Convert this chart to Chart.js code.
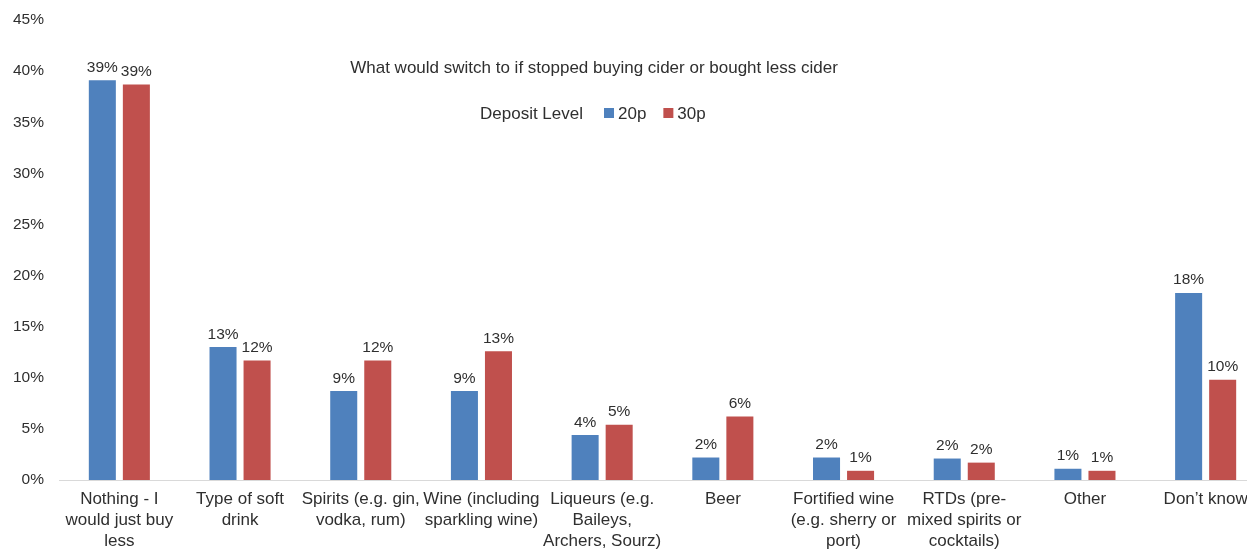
<!DOCTYPE html>
<html>
<head>
<meta charset="utf-8">
<script src="https://cdn.jsdelivr.net/npm/chart.js@4/dist/chart.umd.min.js"></script>
<style>
  html, body { margin: 0; padding: 0; background: #fff; overflow: hidden; }
  #wrap { width: 1266px; height: 549px; position: relative; }
</style>
</head>
<body>
<div id="wrap"><canvas id="c" width="1266" height="549"></canvas></div>
<script>
const categories = [
  ["Nothing - I", "would just buy", "less"],
  ["Type of soft", "drink"],
  ["Spirits (e.g. gin,", "vodka, rum)"],
  ["Wine (including", "sparkling wine)"],
  ["Liqueurs (e.g.", "Baileys,", "Archers, Sourz)"],
  ["Beer"],
  ["Fortified wine", "(e.g. sherry or", "port)"],
  ["RTDs (pre-", "mixed spirits or", "cocktails)"],
  ["Other"],
  ["Don\u2019t know"]
];
const deposit20p = [39.1, 13.0, 8.7, 8.7, 4.4, 2.2, 2.2, 2.1, 1.1, 18.3];
const deposit30p = [38.7, 11.7, 11.7, 12.6, 5.4, 6.2, 0.9, 1.7, 0.9, 9.8];
const seriesNames = ["20p", "30p"];
const seriesColors = ["#4F81BD", "#C0504D"];
const chartTitle = "What would switch to if stopped buying cider or bought less cider";
const legendTitle = "Deposit Level";
const yTicks = [0, 5, 10, 15, 20, 25, 30, 35, 40, 45];

const FONT = "'Liberation Sans', Arial, sans-serif";
const TEXT = "#2f2f2f";

const dataLabels = {
  id: 'dataLabels',
  afterDatasetsDraw(chart) {
    const ctx = chart.ctx;
    ctx.save();
    ctx.font = "15.5px " + FONT;
    ctx.fillStyle = TEXT;
    ctx.textAlign = 'center';
    ctx.textBaseline = 'bottom';
    chart.data.datasets.forEach((ds, di) => {
      const meta = chart.getDatasetMeta(di);
      meta.data.forEach((bar, i) => {
        ctx.fillText(Math.round(ds.data[i]) + '%', bar.x, bar.y - 5);
      });
    });
    ctx.restore();
  }
};

const titleLegend = {
  id: 'titleLegend',
  afterDraw(chart) {
    const ctx = chart.ctx;
    const area = chart.chartArea;
    ctx.save();
    ctx.fillStyle = TEXT;
    ctx.textBaseline = 'middle';
    ctx.font = "17px " + FONT;
    ctx.textAlign = 'center';
    const cx = 594;
    ctx.fillText(chartTitle, cx, area.top + 48);
    // legend
    const ly = area.top + 94;
    ctx.textAlign = 'left';
    let x = 480;
    ctx.fillText(legendTitle, x, ly);
    x += ctx.measureText(legendTitle).width + 21;
    chart.data.datasets.forEach((ds, i) => {
      ctx.fillStyle = ds.backgroundColor;
      ctx.fillRect(x, ly - 6, 10, 10);
      x += 14;
      ctx.fillStyle = TEXT;
      ctx.fillText(ds.label, x, ly);
      x += ctx.measureText(ds.label).width + 17;
    });
    ctx.restore();
  }
};

new Chart(document.getElementById('c'), {
  type: 'bar',
  data: {
    labels: categories,
    datasets: [
      { label: seriesNames[0], data: deposit20p, backgroundColor: seriesColors[0] },
      { label: seriesNames[1], data: deposit30p, backgroundColor: seriesColors[1] }
    ]
  },
  options: {
    responsive: false,
    animation: false,
    devicePixelRatio: 1,
    categoryPercentage: 0.564,
    barPercentage: 0.794,
    layout: { padding: { top: 20, bottom: 0, left: 0, right: 0 } },
    plugins: {
      legend: { display: false },
      title: { display: false },
      tooltip: { enabled: false }
    },
    scales: {
      x: {
        grid: { display: false, drawTicks: false },
        border: { display: true, color: '#D9D9D9', width: 1 },
        ticks: {
          color: TEXT,
          font: { family: FONT, size: 17, lineHeight: 1.22 },
          padding: 9,
          maxRotation: 0,
          autoSkip: false
        },
        afterFit(scale) { scale.height = 69; scale.paddingLeft = 0; scale.paddingRight = 0; scale.paddingTop = 0; scale.paddingBottom = 0; }
      },
      y: {
        min: 0,
        max: 45,
        grid: { display: false, drawTicks: false },
        border: { display: false },
        afterBuildTicks(scale) { scale.ticks = yTicks.map(v => ({ value: v })); },
        ticks: {
          color: TEXT,
          font: { family: FONT, size: 15.5 },
          padding: 15,
          callback: v => v + '%'
        },
        afterFit(scale) { scale.width = 59; scale.paddingTop = 0; scale.paddingBottom = 0; }
      }
    }
  },
  plugins: [dataLabels, titleLegend]
});
</script>
</body>
</html>
